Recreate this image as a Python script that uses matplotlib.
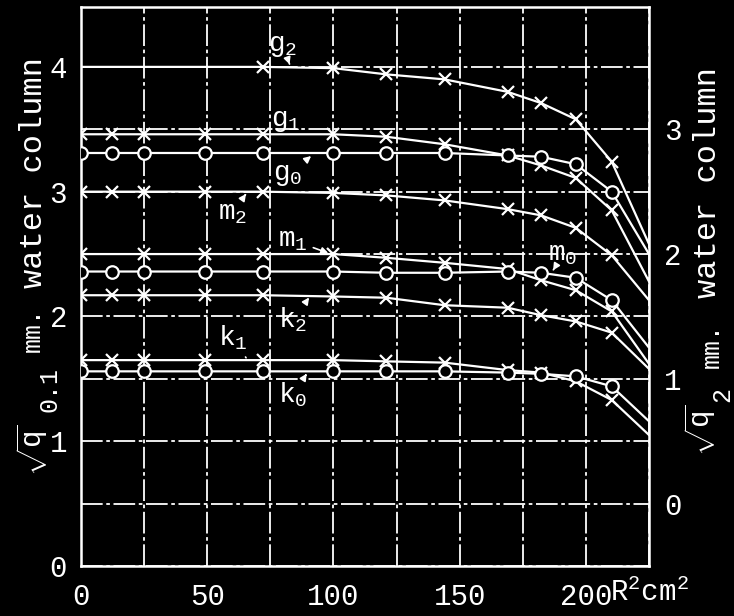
import matplotlib
matplotlib.use('Agg')
import matplotlib.pyplot as plt
from matplotlib.ticker import MultipleLocator, FixedLocator

plt.rcParams['font.family'] = ['Liberation Mono', 'DejaVu Sans Mono']
plt.rcParams['mathtext.fontset'] = 'custom'
for k in ['rm', 'it', 'sf', 'tt', 'cal']:
    plt.rcParams['mathtext.' + k] = 'Liberation Mono'
plt.rcParams['mathtext.bf'] = 'Liberation Mono:bold'

# ---- data (R^2 in cm^2, sqrt q in left-axis units) ----
r2 = [0, 12.25, 25, 49, 72.25, 100, 121, 144, 169, 182.25, 196, 210.25, 225]
g2 = [4.00, 4.00, 4.00, 4.00, 4.00, 3.99, 3.94, 3.90, 3.80, 3.71, 3.58, 3.24, 2.58]
g1 = [3.46, 3.46, 3.46, 3.46, 3.46, 3.46, 3.44, 3.38, 3.29, 3.21, 3.11, 2.85, 2.28]
g0 = [3.31, 3.31, 3.31, 3.31, 3.31, 3.31, 3.31, 3.31, 3.29, 3.28, 3.22, 3.00, 2.50]
m2 = [3.00, 3.00, 3.00, 3.00, 3.00, 2.99, 2.97, 2.93, 2.86, 2.81, 2.71, 2.49, 2.13]
m1 = [2.50, 2.50, 2.50, 2.50, 2.50, 2.50, 2.47, 2.43, 2.38, 2.29, 2.21, 2.04, 1.62]
m0 = [2.36, 2.36, 2.36, 2.36, 2.36, 2.36, 2.35, 2.35, 2.36, 2.35, 2.31, 2.13, 1.75]
k2 = [2.17, 2.17, 2.17, 2.17, 2.17, 2.16, 2.15, 2.09, 2.07, 2.01, 1.96, 1.87, 1.58]
k1 = [1.65, 1.65, 1.65, 1.65, 1.65, 1.65, 1.64, 1.63, 1.57, 1.55, 1.48, 1.33, 1.05]
k0 = [1.56, 1.56, 1.56, 1.56, 1.56, 1.56, 1.56, 1.56, 1.55, 1.54, 1.52, 1.44, 1.16]

left_ticks = [0, 1, 2, 3, 4]
right_ticks = [0, 1, 2, 3]
x_ticks = [0, 50, 100, 150, 200]
x_tick_labels = ['0', '50', '100', '150', '200']

W, H = 734, 616
fig = plt.figure(figsize=(W / 100, H / 100), dpi=100, facecolor='black')
ax = fig.add_axes([81 / W, 50 / H, 568 / W, 559 / H])
ax.set_facecolor('black')
ax.set_xlim(0, 225)
ax.set_ylim(0, 4.48)

for s in ax.spines.values():
    s.set_color('white')
    s.set_linewidth(1.8)

ax.xaxis.set_major_locator(FixedLocator(x_ticks))
ax.set_xticklabels(x_tick_labels)
ax.xaxis.set_minor_locator(MultipleLocator(25))
ax.yaxis.set_major_locator(FixedLocator(left_ticks))
ax.yaxis.set_minor_locator(MultipleLocator(0.5))
ax.grid(which='both', color='white', lw=1.3, ls=(0, (12, 2, 2, 2)))
ax.tick_params(which='both', length=0, colors='white', labelsize=21)
ax.tick_params(axis='x', pad=12)
ax.tick_params(axis='y', pad=10)

ax2 = ax.twinx()
ax2.set_ylim(-0.5, 3.98)
ax2.yaxis.set_major_locator(FixedLocator(right_ticks))
ax2.tick_params(length=0, colors='white', labelsize=21, pad=11)
for s in ax2.spines.values():
    s.set_visible(False)

line_kw = dict(color='white', lw=1.6, mec='white', mfc='black', mew=1.6)
series = [
    (g2, 'x', list(range(4, 12))),
    (g1, 'x', list(range(0, 12))),
    (g0, 'o', list(range(0, 12))),
    (m2, 'x', list(range(0, 12))),
    (m1, 'x', [0] + list(range(2, 12))),
    (m0, 'o', list(range(0, 12))),
    (k2, 'x', list(range(0, 12))),
    (k1, 'x', list(range(0, 12))),
    (k0, 'o', list(range(0, 12))),
]
for vals, mk, every in series:
    ax.plot(r2, vals, marker=mk, ms=8 if mk == 'x' else 9, markevery=every,
            zorder=3, **line_kw)

arr = dict(arrowstyle='-|>', color='white', lw=1.2, mutation_scale=10)
tkw = dict(color='white', fontsize=20, ha='center', va='center', zorder=5)
ax.annotate(r'g$_2$', xy=(83, 4.0), xytext=(80, 4.17), arrowprops=arr, **tkw)
ax.text(81, 3.57, r'g$_1$', **tkw)
ax.annotate(r'g$_0$', xy=(92, 3.30), xytext=(82, 3.13), arrowprops=arr, **tkw)
ax.annotate(r'm$_2$', xy=(66, 3.0), xytext=(60, 2.83), arrowprops=arr, **tkw)
ax.annotate(r'm$_1$', xy=(99, 2.50), xytext=(84, 2.61), arrowprops=arr, **tkw)
ax.annotate(r'm$_0$', xy=(187, 2.37), xytext=(191, 2.50), arrowprops=arr, **tkw)
ax.annotate(r'k$_2$', xy=(91, 2.17), xytext=(84, 1.97), arrowprops=arr, **tkw)
ax.annotate(r'k$_1$', xy=(66, 1.65), xytext=(60, 1.83),
            arrowprops=dict(arrowstyle='-', color='white', lw=1.2), **tkw)
ax.annotate(r'k$_0$', xy=(90, 1.56), xytext=(84, 1.37), arrowprops=arr, **tkw)

fig.text(610 / W, 1 - 601 / H, 'R$^2$cm$^2$', color='white', fontsize=21,
         ha='left', va='baseline')

# left axis label, built from pieces (rotated)
rk = dict(rotation=90, color='white', ha='center', va='center')
fig.text(32 / W, 1 - 450 / H, r'$\sqrt{\mathrm{q}}$', fontsize=21, **rk)
fig.text(49 / W, 1 - 390 / H, '0.1', fontsize=18, **rk)
fig.text(33 / W, 1 - 330 / H, 'mm.', fontsize=18, **rk)
fig.text(34 / W, 1 - 172 / H, 'water column', fontsize=23, **rk)

# right axis label
fig.text(700 / W, 1 - 430 / H, r'$\sqrt{\mathrm{q}}$', fontsize=21, **rk)
fig.text(722 / W, 1 - 395 / H, '2', fontsize=18, **rk)
fig.text(712 / W, 1 - 346 / H, 'mm.', fontsize=18, **rk)
fig.text(708 / W, 1 - 183 / H, 'water column', fontsize=23, **rk)

fig.savefig('out.png', dpi=100, facecolor='black')
